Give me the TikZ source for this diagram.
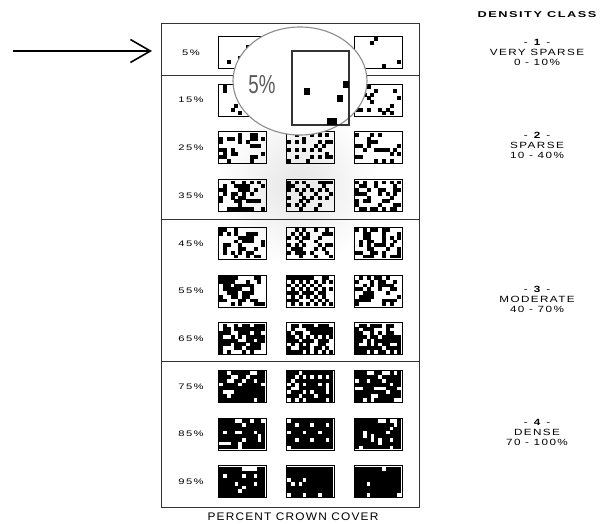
\documentclass[tikz,border=0pt]{standalone}
\usepackage{fontspec}
\setmainfont{Liberation Sans}
\newfontfamily\spfont[LetterSpace=12]{Liberation Sans}
\newfontfamily\capfont[LetterSpace=10]{Liberation Sans}
\usetikzlibrary{arrows.meta}

% #1 left x, #2 top y, #3 density, #4 seed, #5 weight of ordered dither
\newcommand\patbox[5]{%
  \pgfmathsetseed{#4}%
  \foreach \ci in {0,...,11}{%
    \foreach \cj in {0,...,7}{%
      \pgfmathtruncatemacro\bidx{mod(\cj,4)*4+mod(\ci,4)}%
      \pgfmathsetmacro\bval{{0,8,2,10,12,4,14,6,3,11,1,9,15,7,13,5}[\bidx]}%
      \pgfmathsetmacro\thr{rnd<#5 ? (\bval+0.5)/16 : rnd}%
      \pgfmathparse{\thr<#3}%
      \ifdim\pgfmathresult pt>0.5pt
        \fill[cellc] ({#1+1+\ci*46/12},{#2+1+\cj*3.75}) rectangle ++(4.0,3.9);
      \fi
    }%
  }%
  \draw[boxline] (#1,#2) rectangle ++(48,32);
}
\newcommand\clstext[3]{\scalebox{1.3}[1]{\begin{tabular}{@{}c@{}}- \textbf{#1} -\\#2\\#3\end{tabular}}}

\tikzset{
  rowlab/.style={font=\spfont\fontsize{8}{10}\selectfont, inner sep=0pt},
  clslab/.style={font=\spfont\fontsize{9}{10}\selectfont, inner sep=0pt},
  headlab/.style={font=\spfont\bfseries\fontsize{8.5}{10}\selectfont, inner sep=0pt},
  caplab/.style={font=\capfont\fontsize{11}{12}\selectfont, inner sep=0pt},
  frameline/.style={draw=black!80, line width=1pt},
  boxline/.style={draw=black, line width=0.9pt},
  cellc/.style={fill=black},
  lens/.style={draw=black!45, line width=1.1pt, fill=white},
  arrowline/.style={line width=1.6pt, -{Straight Barb[length=20pt,width=23pt,line width=1.6pt]}},
}

\begin{document}
\begin{tikzpicture}[x=1pt,y=-1pt]
\useasboundingbox (0,0) rectangle (608,524);
\fill[white] (0,0) rectangle (608,524);

% soft glow
\shade[inner color=black!10, outer color=white] (298,185) circle [radius=80pt];

% frame and dividers
\draw[frameline] (161,24) rectangle (419,507);
\draw[frameline] (161,76) -- (419,76);
\draw[frameline] (161,219) -- (419,219);
\draw[frameline] (161,361) -- (419,361);

% rows of patterns
\foreach \k in {0,...,9}{
  \pgfmathsetmacro\yc{52.5+\k*47.7}
  \pgfmathtruncatemacro\pc{5+10*\k}
  \pgfmathsetmacro\dd{\pc/100}
  \pgfmathsetmacro\yt{\yc-16}
  \pgfmathtruncatemacro\sa{11+\k*7}
  \pgfmathtruncatemacro\sb{23+\k*5}
  \pgfmathtruncatemacro\sc{37+\k*11}
  \patbox{218}{\yt}{\dd}{\sa}{0}
  \patbox{286}{\yt}{\dd}{\sb}{0.7}
  \patbox{354}{\yt}{\dd}{\sc}{0}
  \node[rowlab] (lab\pc) at (191,\yc) {\scalebox{1.4}[1]{\pc\%}};
}

% magnifier
\path[lens] (300,81) ellipse [x radius=67pt, y radius=54pt];
\node[text=black!65, font=\fontsize{26}{26}\selectfont, inner sep=0pt] (zoomlab) at (262,85) {\scalebox{0.72}[1]{5\%}};
\draw[black!80, line width=1.8pt] (292,51) rectangle (349,125);
\fill[black] (304,88) rectangle (310,95);
\fill[black] (343,81) rectangle (349,88);
\fill[black] (337,95) rectangle (343,102);
\fill[black] (327,118) rectangle (337,125);

% right labels
\node[headlab] (head) at (537,15) {\scalebox{1.5}[1]{DENSITY CLASS}};
\node[clslab] (c1) at (537,53.5) {\clstext{1}{VERY SPARSE}{0 - 10\%}};
\node[clslab] (c2) at (537,147) {\clstext{2}{SPARSE}{10 - 40\%}};
\node[clslab] (c3) at (537,300) {\clstext{3}{MODERATE}{40 - 70\%}};
\node[clslab] (c4) at (537,433.5) {\clstext{4}{DENSE}{70 - 100\%}};

% caption
\node[caplab] (cap) at (293,517) {\scalebox{1.08}[1]{PERCENT CROWN COVER}};

% arrow
\coordinate (arrS) at (13,51);
\coordinate (arrE) at (152,51);
\draw[arrowline] (arrS) -- (arrE);
\end{tikzpicture}
\end{document}
